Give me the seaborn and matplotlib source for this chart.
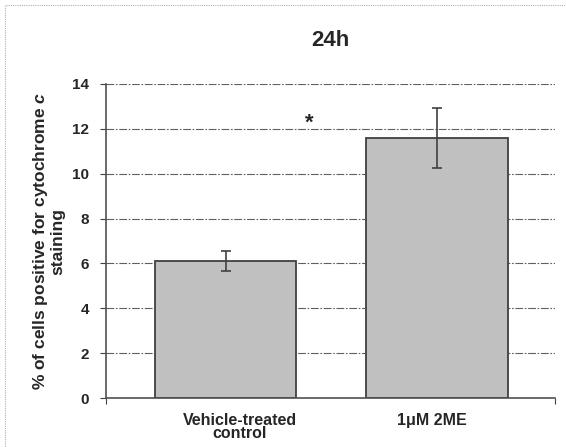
import matplotlib
matplotlib.use("Agg")
from matplotlib import pyplot as plt
import matplotlib.patches as patches
import matplotlib.transforms as mtransforms
import seaborn as sns
import pandas as pd

# values
groups = ["Vehicle-treated\ncontrol", "1\u03bcM 2ME"]
means = [6.1, 11.6]
errors = [0.45, 1.35]
yticks = [0, 2, 4, 6, 8, 10, 12, 14]

sns.set_style("white")
plt.rcParams['font.family'] = ['Liberation Sans', 'DejaVu Sans']
plt.rcParams['font.weight'] = 'bold'
plt.rcParams['mathtext.fontset'] = 'custom'
plt.rcParams['mathtext.it'] = 'Liberation Sans:italic:bold'
plt.rcParams['mathtext.rm'] = 'Liberation Sans:bold'

df = pd.DataFrame({"group": groups, "value": means})

fig = plt.figure(figsize=(5.66, 4.47), dpi=100)
ax = fig.add_axes([0.1873, 0.1096, 0.9806 - 0.1873, 0.8121 - 0.1096])

# dotted frame around the whole picture
fig.patches.append(patches.Rectangle((0.009, -0.2), 1.2, 1.189, transform=fig.transFigure,
                                     fill=False, edgecolor='#b0b0b0', linewidth=0.8,
                                     linestyle=(0, (1, 1)), zorder=0))

ax.set_axisbelow(True)
for t in yticks[1:]:
    ax.axhline(t, color='#606060', linewidth=0.8, linestyle=(0, (7, 1.5, 1.5, 1.5)), zorder=0)

sns.barplot(data=df, x="group", y="value", color='#c0c0c0', width=0.667,
            edgecolor='#404040', linewidth=1.3, saturation=1, ax=ax, zorder=2)
ax.errorbar(range(len(groups)), means, yerr=errors, fmt='none', ecolor='#404040',
            elinewidth=1.2, capsize=3.5, capthick=1.2, zorder=3)

ax.text(0.395, 12.25, "*", ha='center', va='center', fontsize=16, fontweight='bold')

ax.set_xlim(-0.565, 1.558)
ax.set_ylim(0, 14)
ax.set_yticks(yticks)
ax.tick_params(axis='y', direction='out', length=4, width=0.8, pad=8, labelsize=11,
               color='#404040', left=True)
ax.tick_params(axis='x', length=0, pad=11, labelsize=11.5)
ax.set_xticks(range(len(groups)))
ax.set_xticklabels(groups, fontweight='bold', linespacing=0.85)
# labels sit a little off the bar centres in the reference
for lab, dx in zip(ax.get_xticklabels(), [14, -5]):
    lab.set_transform(lab.get_transform() + mtransforms.ScaledTranslation(dx / 100, 0, fig.dpi_scale_trans))
for lab in ax.get_yticklabels():
    lab.set_fontweight('bold')

ax.set_xlabel("")
ax.set_ylabel("% of cells positive for cytochrome $c$\nstaining", fontsize=12.5,
              fontweight='bold', labelpad=5, linespacing=1.0)
ax.set_title("24h", fontsize=16, fontweight='bold', pad=27)

for s in ['top', 'right']:
    ax.spines[s].set_visible(False)
ax.spines['left'].set_color('#505050')
ax.spines['bottom'].set_color('#505050')
ax.spines['left'].set_linewidth(1.2)
ax.spines['bottom'].set_linewidth(1.2)
# small end ticks on the category axis
ax.set_xticks([-0.565, 1.558], minor=True)
ax.tick_params(axis='x', which='minor', direction='out', length=4, width=0.8,
               color='#404040', bottom=True)

fig.savefig("out.png", dpi=100)
